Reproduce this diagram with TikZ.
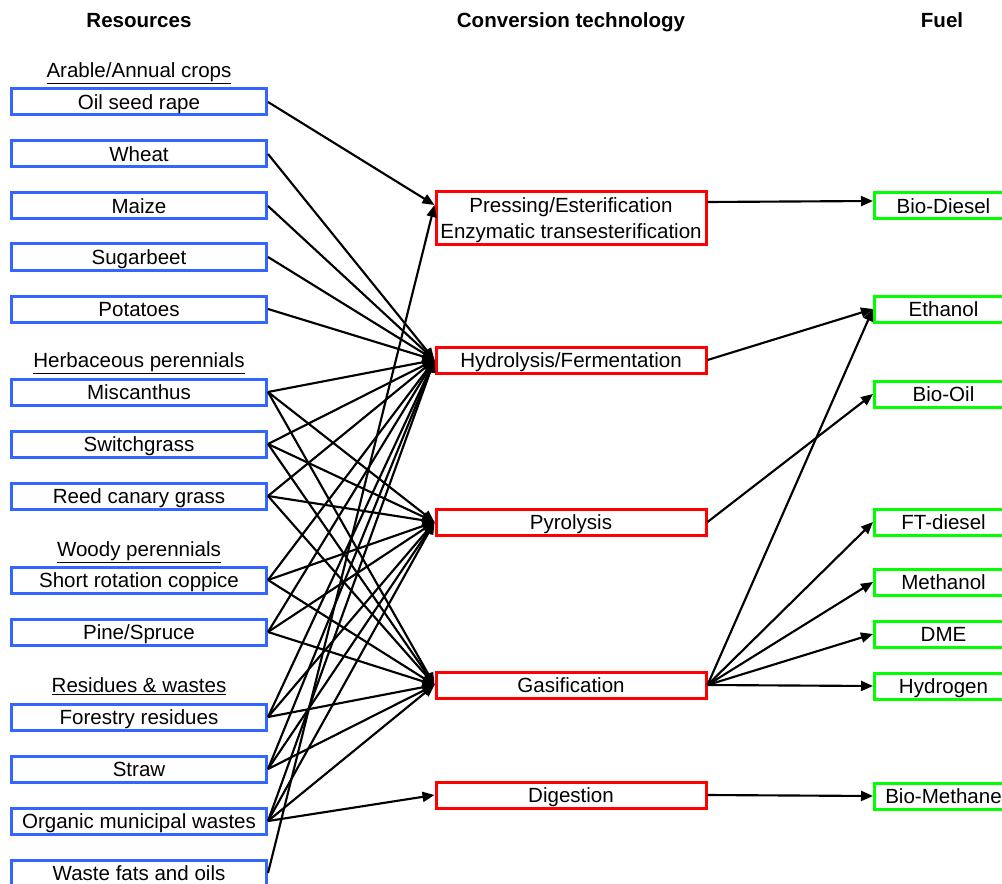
\documentclass[tikz,border=0pt]{standalone}
\usepackage{fontspec}
\setmainfont{Liberation Sans}
\usepackage{xcolor}
\usepackage{tikz}
\usetikzlibrary{arrows.meta}
\definecolor{ResBlue}{HTML}{3366FF}
\definecolor{ConvRed}{HTML}{FF0000}
\definecolor{FuelGreen}{HTML}{00FF00}
\definecolor{Black}{HTML}{000000}

\begin{document}
\begin{tikzpicture}[x=0.75pt, y=-0.75pt]
  \tikzstyle{resource} = [rectangle, draw=ResBlue, line width=2.25pt, minimum width=191.25pt, minimum height=19.5pt, inner sep=0pt, text depth=0pt, text centered, font=\fontsize{15.4}{18}\selectfont]
  \tikzstyle{convert} = [rectangle, draw=ConvRed, line width=2.25pt, minimum width=202.5pt, minimum height=19.5pt, inner sep=0pt, text depth=0pt, align=center, font=\fontsize{15.4}{19.5}\selectfont]
  \tikzstyle{fuel} = [rectangle, draw=FuelGreen, line width=2.25pt, minimum width=103.5pt, minimum height=19.5pt, inner sep=0pt, text depth=0pt, text centered, font=\fontsize{15.4}{18}\selectfont]
  \tikzstyle{group} = [font=\fontsize{15.4}{18}\selectfont, inner sep=0pt, text depth=0pt]
  \tikzstyle{heading} = [font=\fontsize{15.4}{18}\selectfont\bfseries, inner sep=0pt, text depth=0pt]
  \tikzstyle{link} = [-{Triangle[length=9pt,width=7.5pt]}, line width=1.6pt, Black]

  \useasboundingbox (0,0) rectangle (1002,884);

  \node [heading] (hres) at (139,20) {Resources};
  \node [heading] (hconv) at (571,20) {Conversion technology};
  \node [heading] (hfuel) at (942,20) {Fuel};

  \node [group] (arable) at (139,70) {\underline{Arable/Annual crops}};
  \node [resource] (osr) at (139,102) {Oil seed rape};
  \node [resource] (wheat) at (139,154) {Wheat};
  \node [resource] (maize) at (139,206) {Maize};
  \node [resource] (sugar) at (139,257) {Sugarbeet};
  \node [resource] (potato) at (139,309) {Potatoes};

  \node [group] (herb) at (139,360) {\underline{Herbaceous perennials}};
  \node [resource] (misc) at (139,392) {Miscanthus};
  \node [resource] (switch) at (139,444) {Switchgrass};
  \node [resource] (reed) at (139,496) {Reed canary grass};

  \node [group] (woody) at (139,549) {\underline{Woody perennials}};
  \node [resource] (src) at (139,580) {Short rotation coppice};
  \node [resource] (pine) at (139,632) {Pine/Spruce};

  \node [group] (resid) at (139,685) {\underline{Residues \& wastes}};
  \node [resource] (forest) at (139,717) {Forestry residues};
  \node [resource] (straw) at (139,769) {Straw};
  \node [resource] (omw) at (139,821) {Organic municipal wastes};
  \node [resource] (fats) at (139,873) {Waste fats and oils};

  \node [convert, minimum height=39.75pt] (press) at (571,218) {Pressing/Esterification\\Enzymatic transesterification};
  \node [convert] (hydro) at (571,360) {Hydrolysis/Fermentation};
  \node [convert] (pyro) at (571,522) {Pyrolysis};
  \node [convert] (gas) at (571,685) {Gasification};
  \node [convert] (dig) at (571,795) {Digestion};

  \node [fuel] (biodiesel) at (943.5,206) {Bio-Diesel};
  \node [fuel] (ethanol) at (943.5,309) {Ethanol};
  \node [fuel] (biooil) at (943.5,394) {Bio-Oil};
  \node [fuel] (ftdiesel) at (943.5,522) {FT-diesel};
  \node [fuel] (methanol) at (943.5,582) {Methanol};
  \node [fuel] (dme) at (943.5,634) {DME};
  \node [fuel] (hydrogen) at (943.5,686) {Hydrogen};
  \node [fuel] (biomethane) at (943.5,796) {Bio-Methane};

  \draw[link] (osr.east) -- ([yshift=9.75pt]press.west);
  \draw[link] (fats.east) -- ([yshift=9.75pt]press.west);

  \draw[link] (wheat.east) -- (hydro.west);
  \draw[link] (maize.east) -- (hydro.west);
  \draw[link] (sugar.east) -- (hydro.west);
  \draw[link] (potato.east) -- (hydro.west);
  \draw[link] (misc.east) -- (hydro.west);
  \draw[link] (switch.east) -- (hydro.west);
  \draw[link] (reed.east) -- (hydro.west);
  \draw[link] (src.east) -- (hydro.west);
  \draw[link] (pine.east) -- (hydro.west);
  \draw[link] (forest.east) -- (hydro.west);
  \draw[link] (straw.east) -- (hydro.west);
  \draw[link] (omw.east) -- (hydro.west);

  \draw[link] (misc.east) -- (pyro.west);
  \draw[link] (switch.east) -- (pyro.west);
  \draw[link] (reed.east) -- (pyro.west);
  \draw[link] (src.east) -- (pyro.west);
  \draw[link] (pine.east) -- (pyro.west);
  \draw[link] (forest.east) -- (pyro.west);
  \draw[link] (straw.east) -- (pyro.west);
  \draw[link] (omw.east) -- (pyro.west);

  \draw[link] (misc.east) -- (gas.west);
  \draw[link] (switch.east) -- (gas.west);
  \draw[link] (reed.east) -- (gas.west);
  \draw[link] (src.east) -- (gas.west);
  \draw[link] (pine.east) -- (gas.west);
  \draw[link] (forest.east) -- (gas.west);
  \draw[link] (straw.east) -- (gas.west);
  \draw[link] (omw.east) -- (gas.west);

  \draw[link] (omw.east) -- (dig.west);

  \draw[link] ([yshift=12pt]press.east) -- ([yshift=3.75pt]biodiesel.west);
  \draw[link] (hydro.east) -- (ethanol.west);
  \draw[link] (pyro.east) -- (biooil.west);
  \draw[link] (gas.east) -- (ethanol.west);
  \draw[link] (gas.east) -- (ftdiesel.west);
  \draw[link] (gas.east) -- (methanol.west);
  \draw[link] (gas.east) -- (dme.west);
  \draw[link] (gas.east) -- (hydrogen.west);
  \draw[link] (dig.east) -- (biomethane.west);
\end{tikzpicture}
\end{document}
